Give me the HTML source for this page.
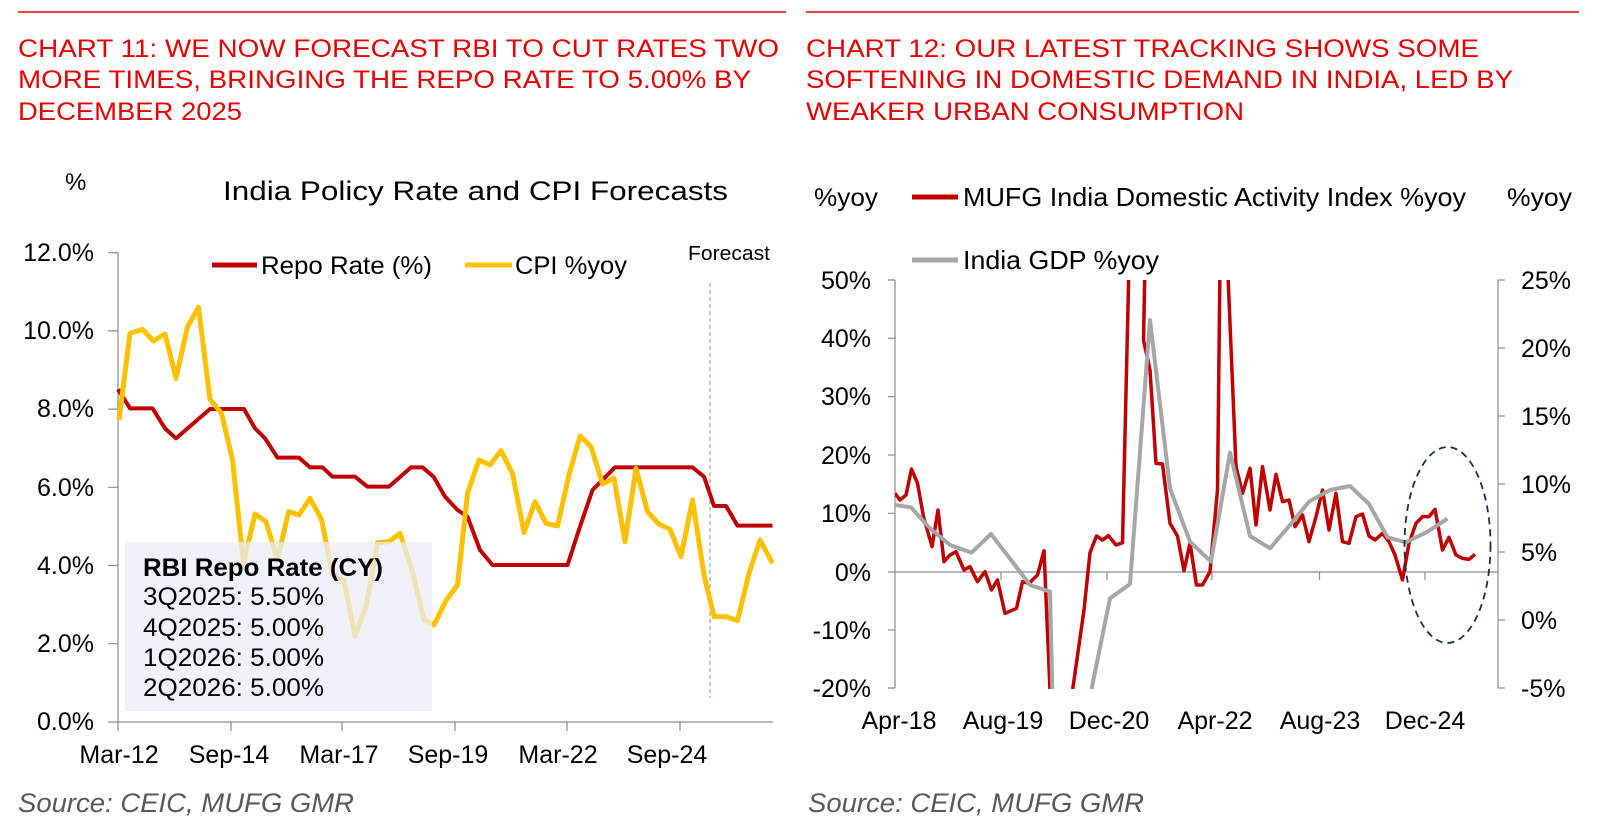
<!DOCTYPE html>
<html><head><meta charset="utf-8"><style>
html,body{margin:0;padding:0;background:#fff}
svg{display:block}
text{font-family:"Liberation Sans",Arial,sans-serif}
</style></head><body>
<svg width="1603" height="835" viewBox="0 0 1603 835" xmlns="http://www.w3.org/2000/svg">
<defs>
<clipPath id="c2"><rect x="895" y="280" width="603" height="409"/></clipPath>
</defs>
<line x1="18" y1="12" x2="786" y2="12" stroke="#e00000" stroke-width="1.5"/>
<line x1="806" y1="12" x2="1579" y2="12" stroke="#e00000" stroke-width="1.5"/>
<g fill="#e60000" font-size="25">
<text x="18" y="57" textLength="761" lengthAdjust="spacingAndGlyphs">CHART 11: WE NOW FORECAST RBI TO CUT RATES TWO</text>
<text x="18" y="88" textLength="733" lengthAdjust="spacingAndGlyphs">MORE TIMES, BRINGING THE REPO RATE TO 5.00% BY</text>
<text x="18" y="120" textLength="224" lengthAdjust="spacingAndGlyphs">DECEMBER 2025</text>
<text x="806" y="57" textLength="673" lengthAdjust="spacingAndGlyphs">CHART 12: OUR LATEST TRACKING SHOWS SOME</text>
<text x="806" y="88" textLength="707" lengthAdjust="spacingAndGlyphs">SOFTENING IN DOMESTIC DEMAND IN INDIA, LED BY</text>
<text x="806" y="120" textLength="438" lengthAdjust="spacingAndGlyphs">WEAKER URBAN CONSUMPTION</text>
</g>

<!-- ===== Chart 11 ===== -->
<text x="65" y="190" font-size="24">%</text>
<text x="223" y="200" font-size="27" textLength="505" lengthAdjust="spacingAndGlyphs">India Policy Rate and CPI Forecasts</text>
<g stroke="#8c8c8c" stroke-width="1.2" fill="none">
<line x1="118" y1="252.7" x2="118" y2="722"/>
<line x1="118" y1="722" x2="773" y2="722"/>
<path d="M108 252.7H118M108 330.9H118M108 409.1H118M108 487.3H118M108 565.5H118M108 643.7H118M108 722H118"/>
<path d="M118 722V731M231 722V731M342 722V731M455 722V731M567 722V731M680 722V731"/>
</g>
<g font-size="25" fill="#000" text-anchor="end">
<text x="94" y="261">12.0%</text><text x="94" y="339">10.0%</text><text x="94" y="417">8.0%</text>
<text x="94" y="496">6.0%</text><text x="94" y="574">4.0%</text><text x="94" y="652">2.0%</text><text x="94" y="730">0.0%</text>
</g>
<g font-size="25" fill="#000" text-anchor="middle">
<text x="119" y="763">Mar-12</text><text x="229" y="763">Sep-14</text><text x="339" y="763">Mar-17</text>
<text x="448" y="763">Sep-19</text><text x="558" y="763">Mar-22</text><text x="667" y="763">Sep-24</text>
</g>
<line x1="710" y1="283" x2="710" y2="698" stroke="#8fa8c8" stroke-width="1.2" stroke-dasharray="4,3"/>
<text x="688" y="260" font-size="20" textLength="82" lengthAdjust="spacingAndGlyphs">Forecast</text>
<line x1="212" y1="265" x2="257" y2="265" stroke="#c00000" stroke-width="5"/>
<text x="261" y="274" font-size="25" textLength="171" lengthAdjust="spacingAndGlyphs">Repo Rate (%)</text>
<line x1="465" y1="265" x2="512" y2="265" stroke="#ffc000" stroke-width="5"/>
<text x="515" y="274" font-size="25" textLength="112" lengthAdjust="spacingAndGlyphs">CPI %yoy</text>

<svg x="0" y="230" width="780" height="500" viewBox="0 0 1560 1500" preserveAspectRatio="none" overflow="visible">
<polyline fill="none" stroke="#c00000" stroke-width="4" vector-effect="non-scaling-stroke" stroke-linejoin="round"
points="236,478 260,535 305,535 330,595 352,625 420,537 488,537 510,595 530,625 555,683 598,683 620,712 645,712 665,740 710,740 735,770 778,770 822,712 845,712 867,740 890,800 915,840 935,860 960,960 985,1005 1135,1005 1160,890 1185,780 1230,712 1385,712 1408,740 1428,828 1452,828 1475,887 1545,887"/>
<polyline fill="none" stroke="#ffc000" stroke-width="5" vector-effect="non-scaling-stroke" stroke-linejoin="round"
points="238,570 260,310 285,298 307,333 330,312 352,445 375,290 397,232 420,508 443,550 465,690 487,1000 510,852 532,875 555,990 577,845 598,855 620,805 643,868 665,1035 688,1052 710,1218 732,1130 755,938 778,935 800,910 825,1025 848,1170 868,1185 892,1112 915,1065 935,790 958,690 980,705 1002,662 1025,730 1048,908 1070,815 1092,880 1115,888 1138,735 1160,618 1182,650 1205,762 1228,745 1250,935 1272,715 1295,845 1318,882 1340,898 1362,980 1385,810 1408,1035 1428,1160 1452,1160 1475,1172 1498,1030 1520,930 1545,1000"/>
</svg>
<rect x="125" y="542" width="307" height="169" fill="#e9eef7" fill-opacity="0.75"/>
<g font-size="25" fill="#000">
<text x="143" y="576" font-weight="bold" textLength="240" lengthAdjust="spacingAndGlyphs">RBI Repo Rate (CY)</text>
<text x="143" y="605" textLength="181" lengthAdjust="spacingAndGlyphs">3Q2025: 5.50%</text>
<text x="143" y="636" textLength="181" lengthAdjust="spacingAndGlyphs">4Q2025: 5.00%</text>
<text x="143" y="666" textLength="181" lengthAdjust="spacingAndGlyphs">1Q2026: 5.00%</text>
<text x="143" y="696" textLength="181" lengthAdjust="spacingAndGlyphs">2Q2026: 5.00%</text>
</g>

<!-- ===== Chart 12 ===== -->
<text x="814" y="206" font-size="25" textLength="64" lengthAdjust="spacingAndGlyphs">%yoy</text>
<text x="1507" y="206" font-size="25" textLength="65" lengthAdjust="spacingAndGlyphs">%yoy</text>
<line x1="912" y1="197" x2="958" y2="197" stroke="#c00000" stroke-width="5"/>
<text x="963" y="206" font-size="26" textLength="503" lengthAdjust="spacingAndGlyphs">MUFG India Domestic Activity Index %yoy</text>
<line x1="912" y1="260" x2="958" y2="260" stroke="#a6a6a6" stroke-width="5"/>
<text x="963" y="269" font-size="26" textLength="196" lengthAdjust="spacingAndGlyphs">India GDP %yoy</text>
<g stroke="#8c8c8c" stroke-width="1.2" fill="none">
<line x1="895" y1="280" x2="895" y2="688"/>
<line x1="1498" y1="280" x2="1498" y2="688"/>
<line x1="895" y1="572" x2="1498" y2="572"/>
<path d="M888 280H895M888 338.3H895M888 396.6H895M888 455H895M888 513.3H895M888 572H895M888 630H895M888 688H895"/>
<path d="M1498 280H1505M1498 348H1505M1498 416H1505M1498 484H1505M1498 552H1505M1498 620H1505M1498 688H1505"/>
<path d="M1001 572V580M1107 572V580M1212 572V580M1319.5 572V580M1425 572V580"/>
</g>
<g font-size="25" fill="#000" text-anchor="end">
<text x="871" y="289">50%</text><text x="871" y="347">40%</text><text x="871" y="405">30%</text>
<text x="871" y="464">20%</text><text x="871" y="522">10%</text><text x="871" y="581">0%</text>
<text x="871" y="639">-10%</text><text x="871" y="697">-20%</text>
</g>
<g font-size="25" fill="#000">
<text x="1521" y="289">25%</text><text x="1521" y="357">20%</text><text x="1521" y="425">15%</text>
<text x="1521" y="493">10%</text><text x="1521" y="561">5%</text><text x="1521" y="629">0%</text><text x="1521" y="697">-5%</text>
</g>
<g font-size="25" fill="#000" text-anchor="middle">
<text x="899" y="729">Apr-18</text><text x="1003" y="729">Aug-19</text><text x="1109" y="729">Dec-20</text>
<text x="1215" y="729">Apr-22</text><text x="1320" y="729">Aug-23</text><text x="1425" y="729">Dec-24</text>
</g>
<g clip-path="url(#c2)">
<svg x="780" y="230" width="780" height="500" viewBox="0 0 1560 1500" preserveAspectRatio="none" overflow="visible">
<polyline fill="none" stroke="#c00000" stroke-width="3.5" vector-effect="non-scaling-stroke" stroke-linejoin="round"
points="230,790 240,810 252,795 263,717 275,760 287,860 304,950 316,840 328,995 340,975 352,965 368,1020 380,1010 395,1055 410,1025 423,1080 435,1050 450,1150 473,1135 485,1055 498,1060 515,1035 528,962 540,1380 548,1600 580,1600 585,1382 608,1140 620,968 633,918 645,930 657,917 672,945 685,938 698,100 730,100 727,330 740,420 752,700 765,702 780,880 795,918 808,1022 820,940 833,1065 845,1065 860,1025 875,780 880,100 895,100 912,710 925,790 940,715 952,885 965,710 980,840 992,733 1005,815 1018,810 1030,890 1045,855 1058,935 1072,860 1085,780 1098,900 1112,790 1125,935 1138,940 1152,860 1165,852 1178,918 1190,930 1205,910 1218,935 1230,975 1245,1050 1258,940 1272,880 1285,860 1298,860 1310,838 1325,960 1338,922 1352,975 1365,985 1378,988 1390,973"/>
<polyline fill="none" stroke="#a6a6a6" stroke-width="4" vector-effect="non-scaling-stroke" stroke-linejoin="round"
points="230,825 262,832 300,895 340,945 383,968 422,912 462,990 500,1065 540,1085 548,1600 600,1600 620,1400 660,1105 700,1062 740,270 780,775 820,935 862,995 900,668 940,918 980,955 1020,885 1058,815 1100,780 1140,768 1178,822 1215,922 1252,937 1295,905 1335,866"/>
</svg>
</g>
<ellipse cx="1447.5" cy="545" rx="43" ry="98" fill="none" stroke="#1f2d4d" stroke-width="1.8" stroke-dasharray="7,5"/>

<text x="18" y="812" font-size="27" font-style="italic" fill="#595959" textLength="336" lengthAdjust="spacingAndGlyphs">Source: CEIC, MUFG GMR</text>
<text x="808" y="812" font-size="27" font-style="italic" fill="#595959" textLength="336" lengthAdjust="spacingAndGlyphs">Source: CEIC, MUFG GMR</text>
</svg>
</body></html>
